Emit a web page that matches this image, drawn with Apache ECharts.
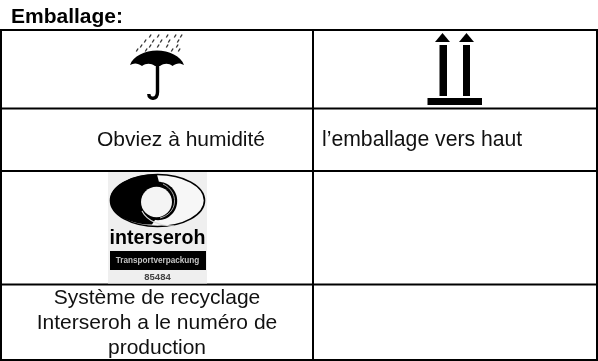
<!DOCTYPE html>
<html><head><meta charset="utf-8">
<style>html,body{margin:0;padding:0;background:#fff}#c{width:598px;height:361px}</style>
<script src="https://cdn.jsdelivr.net/npm/echarts@6/dist/echarts.min.js"></script>
</head><body><div id="c"></div>
<script>
const heading = "Emballage:";
const labelHumidity = "Obviez à humidité";
const labelUp = "l’emballage vers haut";
const labelRecycling = ["Système de recyclage", "Interseroh a le numéro de", "production"];
const logoName = "interseroh";
const logoBand = "Transportverpackung";
const logoNumber = "85484";

const FONT = '"Liberation Sans", Arial, sans-serif';
const chart = echarts.init(document.getElementById('c'), null, {renderer: 'canvas'});
const g = [];
const line = (x1,y1,x2,y2,w) => g.push({type:'line',shape:{x1,y1,x2,y2},style:{stroke:'#000',lineWidth:w||2}});
const text = (t,x,y,o) => g.push({type:'text',x,y,style:Object.assign({text:t,fill:'#111',font:'21px '+FONT,textAlign:'center',textVerticalAlign:'middle'},o||{})});
const box = (x,y,width,height,fill) => g.push({type:'rect',shape:{x,y,width,height},style:{fill}});
const ell = (cx,cy,rx,ry,style) => g.push({type:'ellipse',shape:{cx,cy,rx,ry},style});
const path = (d,style) => g.push({type:'path',shape:{pathData:d},style});

// table rules
line(0,30,598,30); line(0,108.5,598,108.5); line(0,171,598,171); line(0,284.5,598,284.5); line(0,360,598,360);
line(1,30,1,360,2); line(313,30,313,360); line(597,30,597,360);

text(heading,11,17,{font:'bold 21px '+FONT,textAlign:'left',fill:'#000'});
text(labelHumidity,181,140);
text(labelUp,322,140,{textAlign:'left',font:'21.2px '+FONT});
labelRecycling.forEach((t,i)=>text(t,157,298+i*25));

// umbrella
path('M130 65 C133 56 145 50.5 157 50.5 C169 50.5 181 56 184 65 C180 62.5 176 63 172.5 66 C169 63 164 63 160 66 L155 66 C151 63 146 63 142 66 C138 63 134 62.5 130 65 Z',{fill:'#000'});
path('M157.5 66 L157.5 92 C157.5 100 148.8 100 148.8 94',{stroke:'#000',lineWidth:3.4,fill:null});
[[36,[150,158,167,175,181]],[41,[145,153,161,169,178]],[46,[141,150,158,167,177]],[50,[137,146,172,179]]].forEach(row=>{
  row[1].forEach(x=>path(`M${x+1.1} ${row[0]-1.5} L${x-0.7} ${row[0]+1.5}`,{stroke:'#333',lineWidth:1.4,fill:null}));
});

// this-way-up arrows
[[435,450,439.5,447],[459,474,463,470]].forEach(a=>{
  path(`M${(a[0]+a[1])/2} 33 L${a[1]} 42 L${a[0]} 42 Z`,{fill:'#000'});
  box(a[2],45,a[3]-a[2],51,'#000');
});
box(427.5,98,54.5,7,'#000');

// recycling logo
box(108,172,99,111.5,'#efefef');
ell(157.5,200.5,47,26,{fill:'#f7f7f7',stroke:'#000',lineWidth:1.6});
// black left body
path('M157 174.5 C133 173 110 186 110 200 C110 214 130 225 152 224.5 L165 205 Z',{fill:'#000'});
ell(158,201,19.2,19.2,{fill:'#000'});
// thin light rings and the white disc
path('M163 184 C171 188 175 195 174.5 202 C174 210 168 216 160 218',{stroke:'#bbb',lineWidth:0.9,fill:null});
path('M142 211 C147 221 160 226 174 226',{stroke:'#ddd',lineWidth:1.1,fill:null});
ell(156.5,202,15.5,15.2,{fill:'#f4f4f4'});

text(logoName,157.5,239,{font:'bold 19.6px '+FONT,fill:'#000'});
box(110,251,96,19,'#000');
text(logoBand,157.5,260.5,{font:'bold 8.2px '+FONT,fill:'#c4c4c4'});
text(logoNumber,157.5,277,{font:'bold 9.5px '+FONT,fill:'#444'});

chart.setOption({animation:false,series:[{type:'custom',coordinateSystem:'none',silent:true,data:[0],clip:false,
  renderItem:()=>({type:'group',children:g})}]});
</script></body></html>
